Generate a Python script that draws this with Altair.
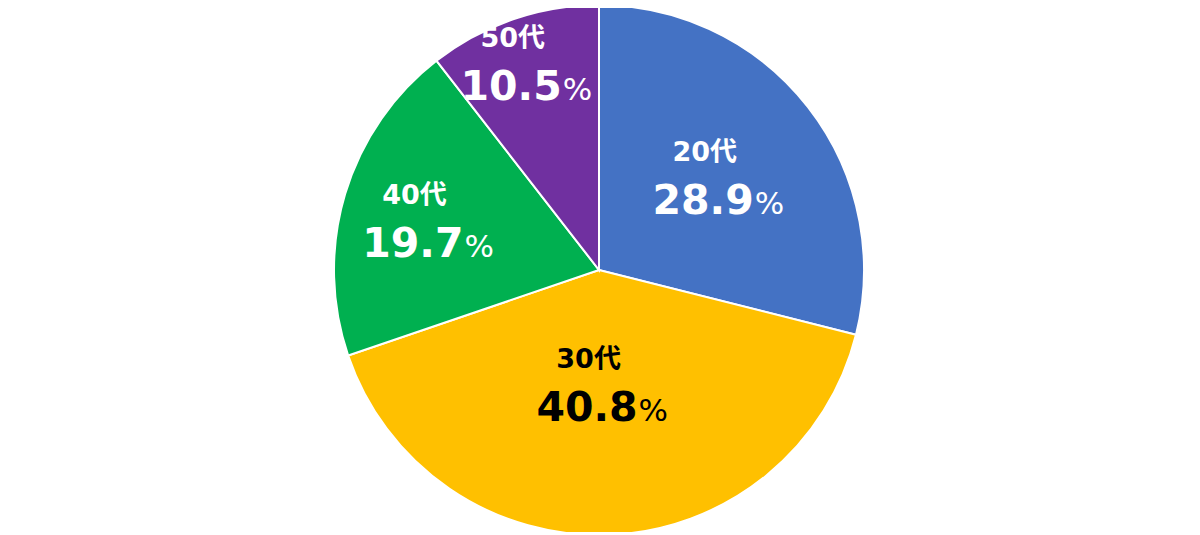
import altair as alt
import pandas as pd
import math

categories = ["20代", "30代", "40代", "50代"]
values = [28.9, 40.8, 19.7, 10.5]
colors = ["#4472C4", "#FFC000", "#00B050", "#7030A0"]
text_colors = ["white", "black", "white", "white"]
label_r = [153, 113, 177, 220]

df = pd.DataFrame({
    "cat": categories,
    "value": values,
    "idx": list(range(len(categories))),
    "num": [f"{v:.1f}" for v in values],
    "pct": ["%"] * len(values),
    "tc": text_colors,
    "lr": label_r,
})

FONT = "DejaVu Sans, Noto Sans CJK JP"

arcs = alt.Chart(df).mark_arc(outerRadius=265, stroke="white", strokeWidth=2).encode(
    theta=alt.Theta("value:Q", stack=True),
    order=alt.Order("idx:Q", sort="ascending"),
    color=alt.Color("cat:N", scale=alt.Scale(domain=categories, range=colors), legend=None),
)

tbase = alt.Chart(df).transform_joinaggregate(
    total="sum(value)"
).transform_window(
    cum="sum(value)", sort=[alt.SortField("idx", order="ascending")], frame=[None, 0]
).transform_calculate(
    mid="(datum.cum - datum.value / 2) / datum.total"
).encode(
    theta=alt.Theta("mid:Q", stack=None, scale=alt.Scale(domain=[0, 1], range=[0, 2 * math.pi])),
    radius=alt.Radius("lr:Q", scale=None, stack=None),
    color=alt.Color("tc:N", scale=None),
)

lab = tbase.mark_text(font=FONT, fontWeight="bold", fontSize=27, align="center",
                      baseline="middle", dx=-15, dy=-23).encode(text="cat:N")
num = tbase.mark_text(font=FONT, fontWeight="bold", fontSize=41, align="right",
                      baseline="alphabetic", dx=34, dy=38).encode(text="num:N")
pct = tbase.mark_text(font=FONT, fontWeight="normal", fontSize=31, align="left",
                      baseline="alphabetic", dx=35, dy=38).encode(text="pct:N")

texts = alt.layer(lab, num, pct)

chart = alt.layer(arcs, texts).resolve_scale(theta="independent", color="independent").properties(
    width=1182, height=524, padding=0, autosize=alt.AutoSizeParams(type="none")
).configure_view(stroke=None)

chart.save("out.html", embed_options={"renderer": "svg", "actions": False})
